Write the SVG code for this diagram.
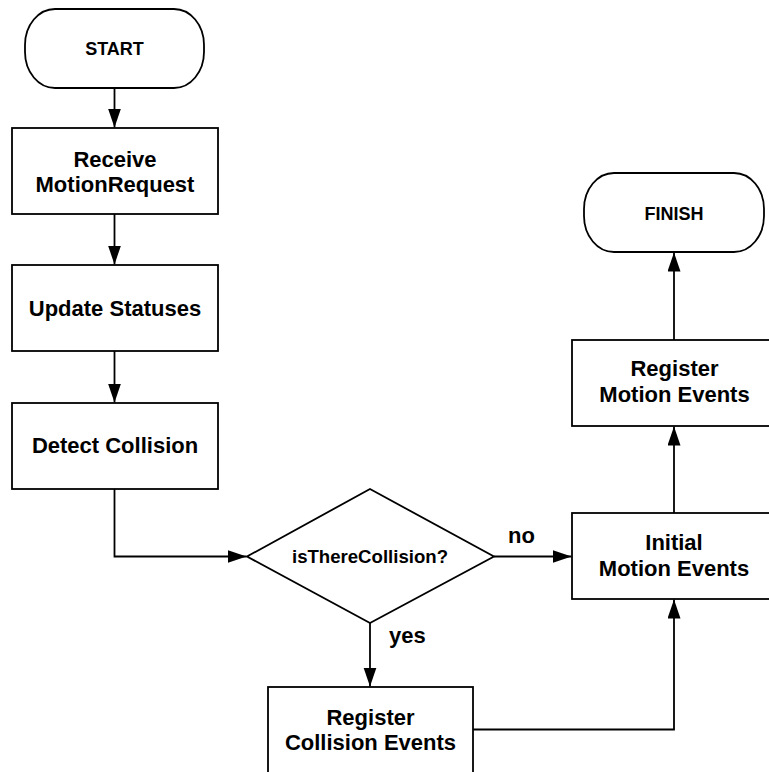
<svg xmlns="http://www.w3.org/2000/svg" width="769" height="772" viewBox="0 0 769 772">
<defs>
<marker id="arr" markerUnits="userSpaceOnUse" markerWidth="20" markerHeight="14" refX="19" refY="6.5" orient="auto">
<path d="M0,0 L19,6.5 L0,13 z" fill="#000"/>
</marker>
<style>
.n{fill:#fff;stroke:#000;stroke-width:1.8}
.t{font-family:"Liberation Sans",Arial,sans-serif;font-weight:bold;font-size:22px;fill:#000;text-anchor:middle}
.s{font-size:18px}
.c{fill:none;stroke:#000;stroke-width:1.8;marker-end:url(#arr)}
.l{font-family:"Liberation Sans",Arial,sans-serif;font-weight:bold;font-size:22px;fill:#000}
</style>
</defs>
<rect width="769" height="772" fill="#fff"/>
<g id="connectors">
<path class="c" d="M114.5,88 V127.5"/>
<path class="c" d="M114.5,214 V264.5"/>
<path class="c" d="M114.5,351 V402.5"/>
<path class="c" d="M114.5,489 V556.5 H246.5"/>
<path class="c" d="M494,556.5 H571.5"/>
<path class="c" d="M370,623 V686.5"/>
<path class="c" d="M473,729.5 H674 V599.5"/>
<path class="c" d="M674,513 V426.5"/>
<path class="c" d="M674,340 V252.5"/>
<text class="l" x="508" y="543">no</text>
<text class="l" x="389" y="643">yes</text>
</g>
<g id="start">
<rect class="n" x="25" y="9" width="179" height="79" rx="30" ry="36"/>
<text class="t s" x="114.5" y="55">START</text>
</g>
<g id="receive">
<rect class="n" x="12" y="128" width="206" height="86"/>
<text class="t" x="115" y="167">Receive</text>
<text class="t" x="115" y="192">MotionRequest</text>
</g>
<g id="update">
<rect class="n" x="12" y="265" width="206" height="86"/>
<text class="t" x="115" y="315.5">Update Statuses</text>
</g>
<g id="detect">
<rect class="n" x="12" y="403" width="206" height="86"/>
<text class="t" x="115" y="453">Detect Collision</text>
</g>
<g id="decision">
<polygon class="n" points="370,489 494,556.5 370,623 247,556.5"/>
<text class="t" style="font-size:18.6px" x="370" y="563">isThereCollision?</text>
</g>
<g id="registerCollision">
<rect class="n" x="268" y="687" width="205" height="86"/>
<text class="t" x="370.5" y="725">Register</text>
<text class="t" x="370.5" y="750">Collision Events</text>
</g>
<g id="initial">
<rect class="n" x="572" y="513" width="206" height="86"/>
<text class="t" x="674" y="550">Initial</text>
<text class="t" x="674" y="576">Motion Events</text>
</g>
<g id="registerMotion">
<rect class="n" x="572" y="340" width="206" height="86"/>
<text class="t" x="674.5" y="376">Register</text>
<text class="t" x="674.5" y="402">Motion Events</text>
</g>
<g id="finish">
<rect class="n" x="584" y="173" width="180" height="79" rx="30" ry="36"/>
<text class="t s" x="674" y="220">FINISH</text>
</g>
</svg>
